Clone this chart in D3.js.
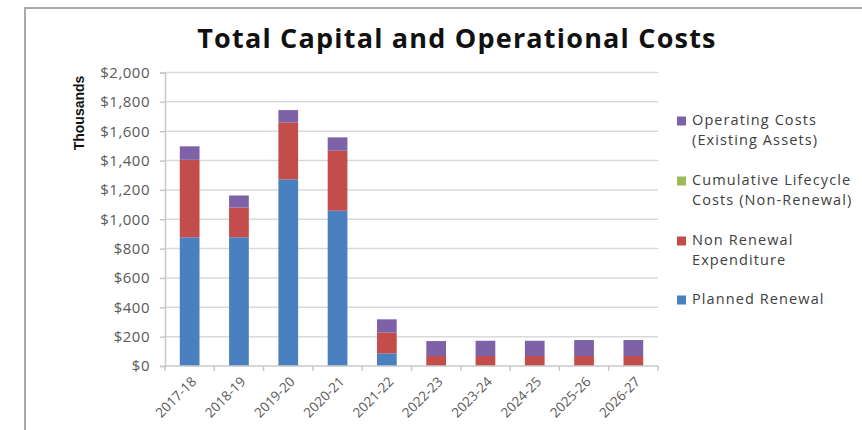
<!DOCTYPE html>
<html><head><meta charset="utf-8">
<script src="https://cdn.jsdelivr.net/npm/d3@7/dist/d3.min.js"></script>
<style>body{margin:0;background:#fff;}svg{display:block;}</style>
</head><body>
<svg id="chart" width="862" height="430"></svg>
<script>
const categories = ["2017-18","2018-19","2019-20","2020-21","2021-22","2022-23","2023-24","2024-25","2025-26","2026-27"];
const plannedRenewal = [877, 877, 1272, 1058, 86, 0, 0, 0, 0, 0];
const nonRenewal = [528, 203, 388, 409, 141, 68, 68, 68, 68, 68];
const cumulativeLifecycle = [0, 0, 0, 0, 0, 0, 0, 0, 0, 0];
const operatingCosts = [92, 82, 84, 91, 91, 102, 104, 104, 109, 109];
const yTicks = [0, 200, 400, 600, 800, 1000, 1200, 1400, 1600, 1800, 2000];
const seriesNames = ["Planned Renewal", "Non Renewal Expenditure", "Cumulative Lifecycle Costs (Non-Renewal)", "Operating Costs (Existing Assets)"];
const seriesKeys = ["planned", "nonRenewal", "cumulative", "operating"];
const legendLines = {
  operating: ["Operating Costs", "(Existing Assets)"],
  cumulative: ["Cumulative Lifecycle", "Costs (Non-Renewal)"],
  nonRenewal: ["Non Renewal", "Expenditure"],
  planned: ["Planned Renewal"]
};
const colors = {planned: "#4a7fc0", nonRenewal: "#c24d4a", cumulative: "#9bbb59", operating: "#7e62a8"};

const table = categories.map((c, i) => ({
  cat: c, planned: plannedRenewal[i], nonRenewal: nonRenewal[i],
  cumulative: cumulativeLifecycle[i], operating: operatingCosts[i]
}));

const svg = d3.select("#chart");
const W = 862, H = 430;
const plot = {left: 165, right: 658, top: 72.5, bottom: 366};

// outer frame
svg.append("path").attr("d", `M25,${H} L25,8 L${W},8`).attr("fill", "none")
  .attr("stroke", "#a9a9a9").attr("stroke-width", 2);

const x = d3.scaleBand().domain(categories).range([plot.left, plot.right])
  .paddingInner(0.6).paddingOuter(0.3);
const y = d3.scaleLinear().domain([0, 2000]).range([plot.bottom, plot.top]);

// gridlines
svg.append("g").selectAll("line").data(yTicks.filter(d => d > 0)).join("line")
  .attr("x1", plot.left).attr("x2", plot.right)
  .attr("y1", d => y(d)).attr("y2", d => y(d))
  .attr("stroke", "#d9d9d9").attr("stroke-width", 1.5);

// y axis
const yAxis = svg.append("g").attr("transform", `translate(${plot.left},0)`)
  .call(d3.axisLeft(y).tickValues(yTicks).tickSize(5).tickPadding(10)
    .tickFormat(d => "$" + d3.format(",")(d)));
yAxis.select(".domain").attr("stroke", "#c8c8c8").attr("stroke-width", 1.5);
yAxis.selectAll(".tick line").attr("stroke", "#c8c8c8").attr("stroke-width", 1.5);
yAxis.selectAll(".tick text").attr("fill", "#595959")
  .style("font-family", "'Open Sans', sans-serif").style("font-size", "15px")
  .style("letter-spacing", "0.5px");

// stacked bars
const stack = d3.stack().keys(seriesKeys);
const stacked = stack(table);
svg.append("g").selectAll("g").data(stacked).join("g")
  .attr("fill", d => colors[d.key])
  .selectAll("rect").data(d => d).join("rect")
  .attr("x", d => x(d.data.cat))
  .attr("width", x.bandwidth())
  .attr("y", d => y(d[1]))
  .attr("height", d => Math.max(0, y(d[0]) - y(d[1])));

// x axis
const off = (x.step() - x.bandwidth()) / 2;
const bounds = categories.map(c => x(c) - off).concat([x(categories[categories.length - 1]) + x.bandwidth() + off]);
svg.append("line").attr("x1", plot.left).attr("x2", plot.right)
  .attr("y1", plot.bottom).attr("y2", plot.bottom)
  .attr("stroke", "#c8c8c8").attr("stroke-width", 1.5);
svg.append("g").selectAll("line").data(bounds).join("line")
  .attr("x1", d => d).attr("x2", d => d)
  .attr("y1", plot.bottom).attr("y2", plot.bottom + 5)
  .attr("stroke", "#c8c8c8").attr("stroke-width", 1.5);
svg.append("g").selectAll("text").data(categories).join("text")
  .attr("transform", d => `translate(${x(d) + x.bandwidth() / 2 + 5},${plot.bottom + 14}) rotate(-45)`)
  .attr("text-anchor", "end").attr("dominant-baseline", "middle")
  .attr("fill", "#595959")
  .style("font-family", "'Open Sans', sans-serif").style("font-size", "13.5px")
  .text(d => d);

// title
svg.append("text").attr("x", 457).attr("y", 48).attr("text-anchor", "middle")
  .attr("fill", "#111")
  .style("font-family", "'Open Sans', sans-serif").style("font-weight", "700").style("font-size", "27px")
  .style("letter-spacing", "1.2px")
  .text("Total Capital and Operational Costs");

// y label
svg.append("text").attr("transform", "translate(84,113) rotate(-90)")
  .attr("text-anchor", "middle").attr("fill", "#111")
  .style("font-family", "'Liberation Sans Narrow', 'Arial Narrow', sans-serif")
  .style("font-weight", "700").style("font-size", "14px")
  .text("Thousands");

// legend
const legendOrder = ["operating", "cumulative", "nonRenewal", "planned"];
const legendY = [121, 181, 241, 300];
const lg = svg.append("g");
legendOrder.forEach((k, i) => {
  lg.append("rect").attr("x", 677).attr("y", legendY[i] - 4.5).attr("width", 9).attr("height", 9)
    .attr("fill", colors[k]);
  legendLines[k].forEach((line, j) => {
    lg.append("text").attr("x", 692).attr("y", legendY[i] + j * 20)
      .attr("dominant-baseline", "middle").attr("fill", "#404040")
      .style("font-family", "'Open Sans', sans-serif").style("font-size", "14.5px")
      .style("letter-spacing", "1.1px")
      .text(line);
  });
});
</script>
</body></html>
